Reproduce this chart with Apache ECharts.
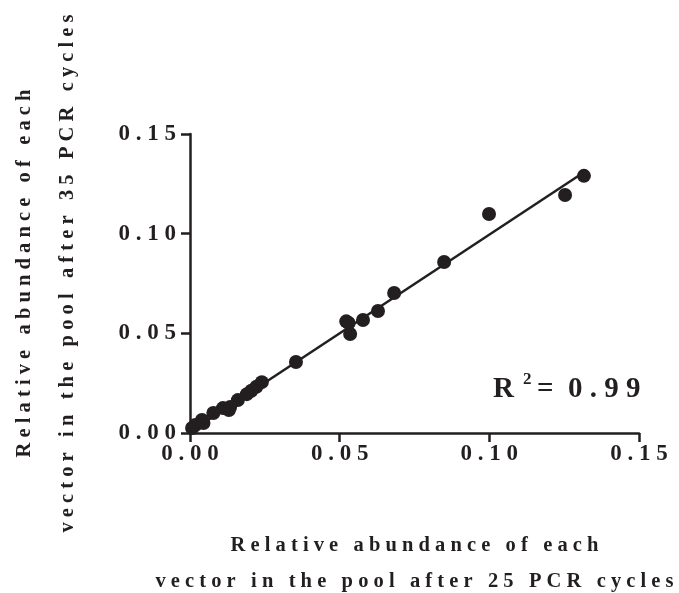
<!DOCTYPE html>
<html>
<head>
<meta charset="utf-8">
<title>PCR cycles abundance</title>
<script src="https://cdn.jsdelivr.net/npm/echarts@6/dist/echarts.min.js"></script>
<style>
  html, body { margin: 0; padding: 0; background: #fff; }
  #main { width: 679px; height: 593px; }
</style>
</head>
<body>
<div id="main"></div>
<script>
// relative abundance after 25 cycles (x) and 35 cycles (y)
var after25 = [0.1316, 0.1253, 0.0999, 0.0849, 0.0682, 0.0628, 0.0578, 0.0522, 0.0530, 0.0535,
  0.0354, 0.0240, 0.0222, 0.0205, 0.0190, 0.0160, 0.0134, 0.0110, 0.0130, 0.0078,
  0.0045, 0.0040, 0.0018, 0.0007];
var after35 = [0.1290, 0.1194, 0.1099, 0.0858, 0.0702, 0.0612, 0.0567, 0.0560, 0.0552, 0.0497,
  0.0356, 0.0255, 0.0232, 0.0212, 0.0195, 0.0165, 0.0130, 0.0125, 0.0115, 0.0100,
  0.0050, 0.0065, 0.0040, 0.0025];
// linear fit
var fitSlope = 0.99;
var fitIntercept = 0.0005;
var fitRange = [0, 0.1316];

var ink = '#231f20';
var serif = '"Liberation Serif", "Times New Roman", serif';

// stretch letters like the original typesetting
function spaced(s) {
  return s.split('').join(' ');
}

var points = [];
for (var i = 0; i < after25.length; i++) {
  points.push([after25[i], after35[i]]);
}
var fitLine = fitRange.map(function (x) {
  return [x, fitSlope * x + fitIntercept];
});

var chart = echarts.init(document.getElementById('main'));
chart.setOption({
  animation: false,
  grid: { left: 190, top: 134, width: 449, height: 299, outerBoundsMode: 'none' },
  xAxis: {
    type: 'value', min: 0, max: 0.15, interval: 0.05,
    splitLine: { show: false },
    axisLine: { lineStyle: { color: ink, width: 2.5 } },
    axisTick: { length: 9, lineStyle: { color: ink, width: 2.5 } },
    axisLabel: {
      margin: 10, color: ink, fontFamily: serif, fontWeight: 'bold', fontSize: 23,
      formatter: function (v) { return spaced(v.toFixed(2)); }
    },
    name: spaced('Relative abundance of each') + '\n' + spaced('vector in the pool after 25 PCR cycles'),
    nameLocation: 'middle',
    nameGap: 95,
    nameTextStyle: { color: ink, fontFamily: serif, fontWeight: 'bold', fontSize: 20.5, lineHeight: 36 }
  },
  yAxis: {
    type: 'value', min: 0, max: 0.15, interval: 0.05,
    splitLine: { show: false },
    axisLine: { lineStyle: { color: ink, width: 2.5 } },
    axisTick: { length: 9, lineStyle: { color: ink, width: 2.5 } },
    axisLabel: {
      margin: 14, color: ink, fontFamily: serif, fontWeight: 'bold', fontSize: 23,
      formatter: function (v) { return spaced(v.toFixed(2)); }
    },
    name: spaced('Relative abundance of each') + '\n' + spaced('vector in the pool after 35 PCR cycles'),
    nameLocation: 'middle',
    nameGap: 101,
    nameTextStyle: {
      color: ink, fontFamily: serif, fontWeight: 'bold', fontSize: 20.5, lineHeight: 43,
      padding: [0, 0, 0, 20]
    }
  },
  graphic: [
    {
      type: 'text', x: 493, y: 404,
      style: { text: 'R', fill: ink, font: 'bold 29px ' + serif, verticalAlign: 'bottom' }
    },
    {
      type: 'text', x: 523, y: 388,
      style: { text: '2', fill: ink, font: 'bold 17px ' + serif, verticalAlign: 'bottom' }
    },
    {
      type: 'text', x: 537, y: 404,
      style: { text: '=  ' + spaced('0.99'), fill: ink, font: 'bold 29px ' + serif, verticalAlign: 'bottom' }
    }
  ],
  series: [
    {
      type: 'line', data: fitLine, symbol: 'none', silent: true,
      lineStyle: { color: ink, width: 2.5 }
    },
    {
      type: 'scatter', data: points, symbolSize: 14,
      itemStyle: { color: ink, opacity: 1 }
    }
  ]
});
</script>
</body>
</html>
